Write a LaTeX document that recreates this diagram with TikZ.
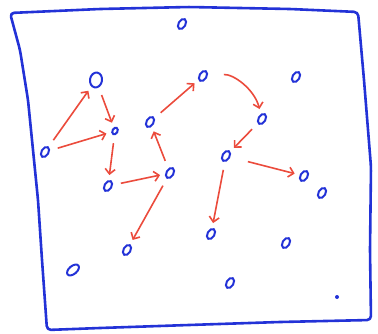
\documentclass[tikz,border=0pt]{standalone}
\usetikzlibrary{shapes.geometric,arrows.meta}
\definecolor{inkblue}{RGB}{35,50,215}
\definecolor{inkred}{RGB}{235,75,60}

\begin{document}
\begin{tikzpicture}[x=1pt, y=-1pt,
  >={Straight Barb[length=5pt,width=10pt]},
  pt/.style={ellipse, draw=inkblue, line width=2pt, minimum width=7pt,
    minimum height=11pt, inner sep=0pt, rotate=-30},
  hop/.style={->, draw=inkred, line width=1.6pt, shorten <=8pt, shorten >=5pt}]
  \useasboundingbox (0,0) rectangle (378,334);
  % frame
  \draw[inkblue, line width=2.6pt, line join=round, rounded corners=4pt]
    (10,13) -- (100,9) -- (189,7) -- (290,9) -- (358,12)
    -- (364,80) -- (371,167) -- (370,250) -- (371,320)
    -- (280,322) -- (189,325) -- (100,328) -- (47,330)
    -- (42,260) -- (38,200) -- (33,150) -- (28,100) -- (20,50) -- cycle;
  % points
  \foreach \n/\x/\y in {p1/182/24, p4/45/152, p5/108/186,
      p6/170/173, p7/150/122, p8/203/76, p9/296/77, p10/262/119,
      p11/226/156, p12/304/176, p13/322/193, p14/211/234, p15/286/243,
      p16/230/283, p18/127/250}
    \node[pt] (\n) at (\x,\y) {};
  \node[pt, minimum width=5pt, minimum height=7pt] (p3) at (115,131) {};
  \node[pt, minimum width=12pt, minimum height=15pt, rotate=20] (p2) at (96,80) {};
  \node[pt, minimum width=8pt, minimum height=14pt, rotate=-20] (p19) at (73,270) {};
  \node[circle, fill=inkblue, minimum size=4pt, inner sep=0pt] (p17) at (337,297) {};
  % moves
  \foreach \a/\b in {p4/p2, p4/p3, p2/p3, p3/p5, p5/p6, p6/p7, p7/p8,
      p10/p11, p6/p18, p11/p14}
    \draw[hop] (\a) -- (\b);
  \draw[hop, shorten <=18pt] (p11) -- (p12);
  \draw[hop, shorten <=16pt] (p8) to[bend left=40] (p10);
\end{tikzpicture}
\end{document}
